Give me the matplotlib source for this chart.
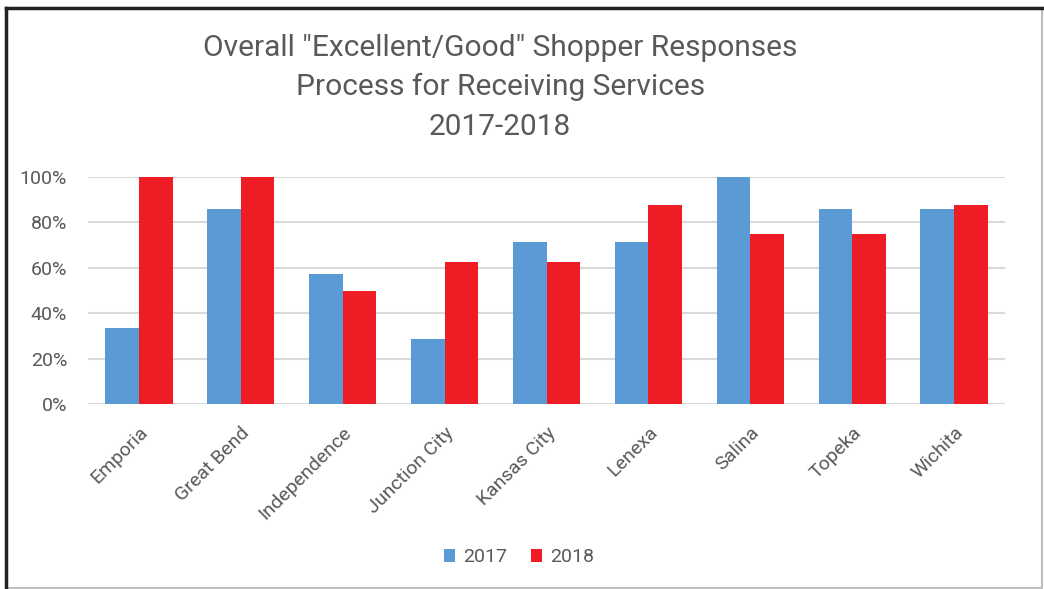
import matplotlib.pyplot as plt
import numpy as np
from matplotlib.patches import Rectangle
from matplotlib.ticker import PercentFormatter

# Share of "Excellent/Good" responses per office, by year
cities = ['Emporia', 'Great Bend', 'Independence', 'Junction City', 'Kansas City',
          'Lenexa', 'Salina', 'Topeka', 'Wichita']
share_2017 = [33.3, 85.7, 57.1, 28.6, 71.4, 71.4, 100.0, 85.7, 85.7]
share_2018 = [100.0, 100.0, 50.0, 62.5, 62.5, 87.5, 75.0, 75.0, 87.5]
years = ['2017', '2018']

blue = '#5b9bd5'
red = '#ee1c25'
txt = '#595959'

plt.rcParams['font.family'] = ['Roboto', 'DejaVu Sans']

fig = plt.figure(figsize=(10.44, 5.89), dpi=100)
ax = fig.add_axes([88 / 1044, 1 - 404 / 589, (1005 - 88) / 1044, (404 - 177) / 589])

x = np.arange(len(cities))
w = 0.33
ax.bar(x - w / 2, share_2017, w, color=blue, label=years[0], zorder=3)
ax.bar(x + w / 2, share_2018, w, color=red, label=years[1], zorder=3)

ax.set_xlim(-0.5, len(cities) - 0.5)
ax.set_ylim(0, 100)
ax.set_yticks(np.arange(0, 101, 20))
ax.yaxis.set_major_formatter(PercentFormatter(decimals=0))
ax.grid(axis='y', color='#d9d9d9', linewidth=1.5, zorder=0)
for s in ax.spines.values():
    s.set_visible(False)
ax.tick_params(length=0, labelsize=14, colors=txt)
ax.tick_params(axis='y', pad=15)
ax.set_xticks(x)
ax.set_xticklabels(cities, rotation=45, ha='right', rotation_mode='anchor')
ax.tick_params(axis='x', pad=14)

fig.text(0.479, 0.943, 'Overall "Excellent/Good" Shopper Responses\nProcess for Receiving Services\n2017-2018',
         ha='center', va='top', fontsize=21.5, color=txt, linespacing=1.52)

leg = fig.legend(loc='center', bbox_to_anchor=(0.497, 0.054), ncol=2, frameon=False,
                 fontsize=14, handlelength=0.6, handleheight=0.6, handletextpad=0.4,
                 columnspacing=1.2)
for t in leg.get_texts():
    t.set_color(txt)

# outer frame of the chart area
fig.patches.append(Rectangle((6 / 1044, 1 / 589), 1036 / 1044, 580 / 589,
                             transform=fig.transFigure, fill=False,
                             edgecolor='#bfbfbf', linewidth=1.5))
fig.add_artist(plt.Line2D([6 / 1044, 1042 / 1044], [1 - 8 / 589, 1 - 8 / 589],
                          transform=fig.transFigure, color='#222222', linewidth=2.5))
fig.add_artist(plt.Line2D([6 / 1044, 6 / 1044], [1 / 589, 1 - 8 / 589],
                          transform=fig.transFigure, color='#222222', linewidth=2.5))

fig.savefig('out.png', dpi=100)
